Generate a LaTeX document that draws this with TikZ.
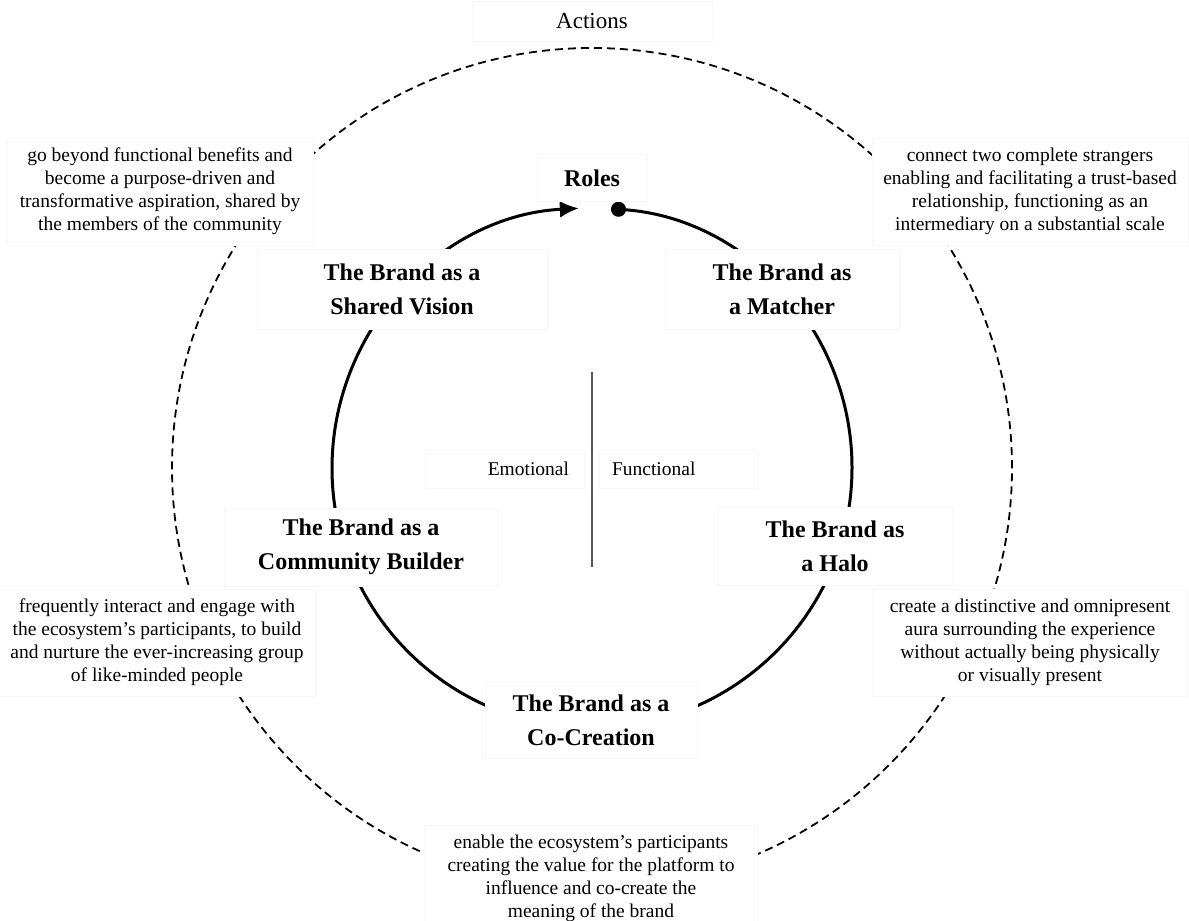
\documentclass[tikz,border=0pt]{standalone}
\usepackage{fontspec}
\setmainfont{Liberation Serif}
\usetikzlibrary{arrows.meta,calc}
\begin{document}
\begin{tikzpicture}[x=1pt,y=1pt,
  lbox/.style={fill=white, draw=black!3, line width=0.6pt, inner sep=0pt, align=center},
  rolebox/.style={lbox, font=\fontsize{24}{34}\selectfont\bfseries},
  descbox/.style={lbox, font=\fontsize{19.5}{23}\selectfont},
  sidebox/.style={lbox, font=\fontsize{19.5}{23}\selectfont, minimum height=38pt}]
\useasboundingbox (0,0) rectangle (1189,-921);
\clip (0,0) rectangle (1189,-921);
\coordinate (c) at (592,-468);

% outer ring of actions
\draw[line width=1.8pt, dash pattern=on 8pt off 5pt] (c) circle[radius=420];

% inner ring of roles, open at the top
\draw[line width=3pt, {Circle[length=15pt]}-{Latex[length=19pt,width=17pt]}]
  ($(c)+(85.8:260)$) arc[start angle=85.8, end angle=-267.1, radius=260];

% divider between emotional and functional
\coordinate (divtop) at (592,-372);
\coordinate (divbot) at (592,-567);
\draw[line width=1.5pt, black!65] (divtop) -- (divbot);

% headings
\node[lbox, font=\fontsize{23}{27}\selectfont, minimum width=240pt, minimum height=40pt] (actions) at (592,-21) {Actions};
\node[rolebox, minimum width=110pt, minimum height=47pt] (roles) at (592,-178) {Roles};

% roles
\node[rolebox, minimum width=290pt, minimum height=80pt] (vision) at (402,-289) {The Brand as a\\Shared Vision};
\node[rolebox, minimum width=234pt, minimum height=80pt] (matcher) at (782,-289) {The Brand as\\a Matcher};
\node[rolebox, minimum width=274pt, minimum height=78pt] (community) at (361,-547) {The Brand as a\\Community Builder};
\node[rolebox, minimum width=235pt, minimum height=78pt] (halo) at (835,-546) {The Brand as\\a Halo};
\node[rolebox, minimum width=212pt, minimum height=76pt] (cocreation) at (591,-720) {The Brand as a\\Co-Creation};

% emotional / functional
\node[sidebox, align=right, inner xsep=15pt, text width=129pt] (emo) at (504.5,-469) {Emotional};
\node[sidebox, align=left, inner xsep=13pt, text width=132pt] (fun) at (678,-469) {Functional};

% actions
\node[descbox, minimum width=306pt, minimum height=107pt] (dvision) at (160,-191.5)
  {go beyond functional benefits and\\become a purpose-driven and\\transformative aspiration, shared by\\the members of the community};
\node[descbox, minimum width=316pt, minimum height=107pt] (dmatcher) at (1030,-191.5)
  {connect two complete strangers\\enabling and facilitating a trust-based\\relationship, functioning as an\\intermediary on a substantial scale};
\node[descbox, minimum width=316pt, minimum height=107pt] (dcommunity) at (157,-642.5)
  {frequently interact and engage with\\the ecosystem’s participants, to build\\and nurture the ever-increasing group\\of like-minded people};
\node[descbox, minimum width=315pt, minimum height=107pt] (dhalo) at (1030,-642.5)
  {create a distinctive and omnipresent\\aura surrounding the experience\\without actually being physically\\or visually present};
\node[descbox, minimum width=333pt, minimum height=107pt] (dcocreation) at (591,-878.5)
  {enable the ecosystem’s participants\\creating the value for the platform to\\influence and co-create the\\meaning of the brand};
\end{tikzpicture}
\end{document}
